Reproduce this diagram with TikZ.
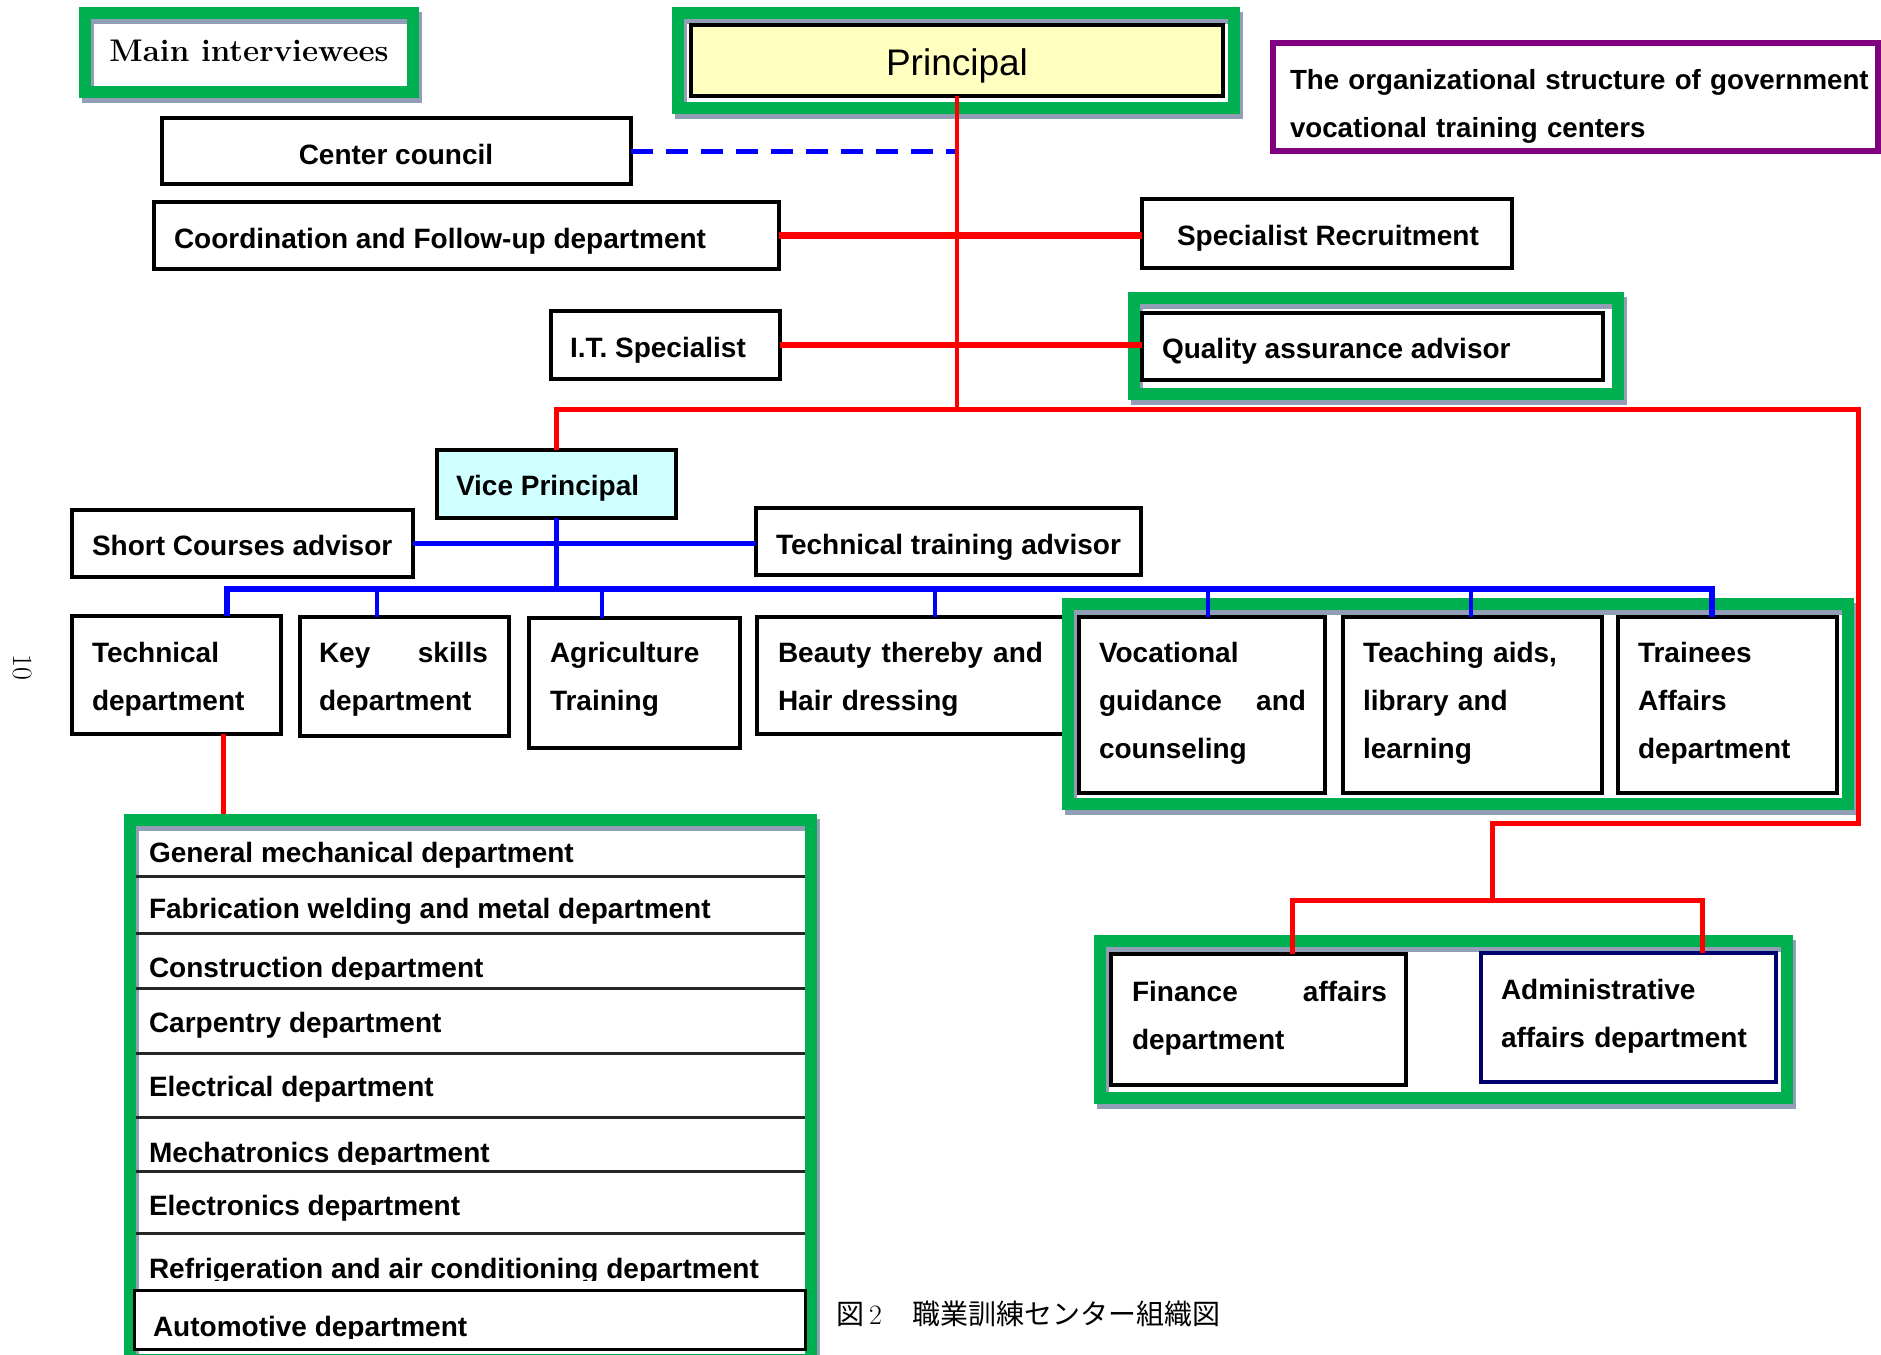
\documentclass[tikz,border=0pt]{standalone}
\usepackage{fontspec}
\newfontfamily\arialfont{Liberation Sans}
\newfontfamily\cjk{Noto Sans CJK JP}
\usetikzlibrary{calc}

\definecolor{frameGreen}{RGB}{0,176,80}
\definecolor{shadowGrey}{RGB}{146,157,182}
\definecolor{lineRed}{RGB}{255,0,0}
\definecolor{lineBlue}{RGB}{0,0,255}
\definecolor{paleYellow}{RGB}{255,255,192}
\definecolor{paleCyan}{RGB}{208,255,255}
\definecolor{titlePurple}{RGB}{128,0,128}
\definecolor{navyEdge}{RGB}{0,0,110}

\tikzset{
  rbase/.style={rectangle, draw=black, line width=3.5pt, fill=white, inner sep=0pt, outer sep=0pt},
  gbase/.style={rectangle, draw=frameGreen, line width=12pt, inner sep=0pt, outer sep=0pt},
  gshadow/.style={draw=shadowGrey, line width=12pt},
  lbl/.style={inner sep=0pt, outer sep=0pt, font=\arialfont\bfseries\fontsize{28}{48}\selectfont},
  mlbl/.style={lbl, align=left, text width=#1},
  redline/.style={draw=lineRed, line width=5pt},
  redthin/.style={draw=lineRed, line width=4pt},
  redbold/.style={draw=lineRed, line width=6.5pt},
  blueline/.style={draw=lineBlue, line width=5.5pt},
  bluedrop/.style={draw=lineBlue, line width=4.5pt},
  bluedash/.style={draw=lineBlue, line width=5pt, dash pattern=on 22pt off 13pt},
  sepline/.style={draw=black!85, line width=3pt},
}

% box from its corners: [style]{name}{x1}{y1}{x2}{y2}
\newcommand\rbox[6][]{\node[rbase,#1,anchor=north west,minimum width={(#5)-(#3)},minimum height={(#6)-(#4)}] (#2) at (#3,#4) {};}
% green frame with its grey drop shadow: {name}{x1}{y1}{x2}{y2}
\newcommand\gframe[5]{%
  \draw[gshadow] ({#2+3},{#3+5}) rectangle ({#4+3},{#5+5});
  \node[gbase,anchor=north west,minimum width={(#4)-(#2)},minimum height={(#5)-(#3)}] (#1) at (#2,#3) {};}

\begin{document}
\begin{tikzpicture}[x=1pt,y=-1pt]
\useasboundingbox[fill=white] (0,0) rectangle (1881,1354);

% boxes lying partly under a frame
\rbox{beauty}{757}{617}{1066}{734}

% green frames
\gframe{keyframe}{85}{13}{413}{92}
\gframe{prinframe}{678}{13}{1234}{108}
\gframe{qaframe}{1134}{298}{1618}{394}
\gframe{unitframe}{1068}{604}{1848}{804}
\gframe{listframe}{130}{820}{811}{1360}
\gframe{finframe}{1100}{941}{1787}{1098}

% boxes
\rbox[fill=paleYellow, line width=4pt]{principal}{691}{25}{1223}{96}
\rbox[draw=titlePurple, line width=6pt]{title}{1273}{43}{1878}{151}
\rbox{council}{162}{118}{631}{184}
\rbox{coord}{154}{202}{779}{269}
\rbox{spec}{1142}{199}{1512}{268}
\rbox{it}{551}{311}{780}{379}
\rbox{qa}{1142}{313}{1603}{380}
\rbox[fill=paleCyan]{vp}{437}{450}{676}{518}
\rbox{sca}{72}{510}{413}{577}
\rbox{tta}{756}{508}{1141}{575}
\rbox{tech}{72}{616}{281}{734}
\rbox{key}{300}{617}{509}{736}
\rbox{agri}{529}{618}{740}{748}
\rbox{voc}{1079}{617}{1325}{793}
\rbox{teach}{1343}{617}{1602}{793}
\rbox{trainee}{1618}{617}{1837}{793}
\rbox{finance}{1111}{954}{1406}{1085}
\rbox[draw=navyEdge]{admin}{1481}{953}{1776}{1082}
\rbox[line width=3pt]{auto}{134}{1290}{805}{1349}

% junction points of the connectors
\coordinate (hub) at (957,409);
\coordinate (rtTop) at (1858,409);
\coordinate (rtBend) at (1858,823);
\coordinate (splitTop) at (1492,823);
\coordinate (split) at (1492,900);
\coordinate (finTap) at (1292,954);
\coordinate (admTap) at (1702,953);
\coordinate (listTap) at (223,814);
\coordinate (busL) at (227,589);
\coordinate (busR) at (1712,589);

% red lines of authority
\draw[bluedash] (council.east) -- (council.east -| hub);
\draw[redthin] (principal.south) -- (hub);
\draw[redbold] (coord.east) -- (coord.east -| spec.west);
\draw[redbold] (it.east) -- (it.east -| qa.west);
\draw[redline] (vp.north) |- (rtTop) -- (rtBend) -- (splitTop) -- (split);
\draw[redline] (finTap) |- (split) -| (admTap);
\draw[redline] (tech.south -| listTap) -- (listTap);

% blue lines below the vice principal
\draw[blueline] (sca.east) -- (sca.east -| tta.west);
\draw[blueline] (vp.south) -- (vp.south |- busL);
\draw[blueline] (busL |- tech.north) -- (busL) -- (busR) -- (busR |- trainee.north);
\foreach \n/\x in {key/377,agri/602,beauty/935,voc/1208,teach/1471}
  \draw[bluedrop] (\x,0 |- busL) -- (\x,0 |- \n.north);

% rows of the technical department list
\foreach \y in {876,933,988,1053,1117,1171,1233}
  \draw[sepline] (136,\y) -- (805,\y);

% labels
\node[anchor=base, inner sep=0pt, font=\bfseries\fontsize{31.3}{40}\selectfont] (t-key) at (249,62) {Main interviewees};
\node[anchor=base, inner sep=0pt, font=\arialfont\fontsize{37}{44}\selectfont] (t-principal) at (957,75) {Principal};
\node[mlbl=600pt, anchor=base west, font=\arialfont\bfseries\fontsize{27.7}{48}\selectfont] (t-title) at (1290,89) {The organizational structure of government\\vocational training centers};
\node[lbl, anchor=base] (t-council) at (396,164) {Center council};
\node[lbl, anchor=base west] (t-coord) at (174,248) {Coordination and Follow-up department};
\node[lbl, anchor=base west] (t-spec) at (1177,245) {Specialist Recruitment};
\node[lbl, anchor=base west] (t-it) at (570,357) {I.T. Specialist};
\node[lbl, anchor=base west] (t-qa) at (1162,358) {Quality assurance advisor};
\node[lbl, anchor=base west] (t-vp) at (456,495) {Vice Principal};
\node[lbl, anchor=base west] (t-sca) at (92,555) {Short Courses advisor};
\node[lbl, anchor=base west] (t-tta) at (776,554) {Technical training advisor};
\node[mlbl=180pt, anchor=base west] (t-tech) at (92,662) {Technical\\department};
\node[mlbl=169pt, anchor=base west] (t-keysk) at (319,662) {Key\hfill skills\\department};
\node[mlbl=180pt, anchor=base west] (t-agri) at (550,662) {Agriculture\\Training};
\node[mlbl=265pt, anchor=base west] (t-beauty) at (778,662) {Beauty\hfill thereby\hfill and\\Hair dressing};
\node[mlbl=207pt, anchor=base west] (t-voc) at (1099,662) {Vocational\\guidance\hfill and\\counseling};
\node[mlbl=230pt, anchor=base west] (t-teach) at (1363,662) {Teaching aids,\\library and\\learning};
\node[mlbl=190pt, anchor=base west] (t-trainee) at (1638,662) {Trainees\\Affairs\\department};
\node[mlbl=255pt, anchor=base west] (t-fin) at (1132,1001) {Finance\hfill affairs\\department};
\node[mlbl=270pt, anchor=base west] (t-admin) at (1501,999) {Administrative\\affairs department};

% list entries (some descenders are cut off by their cells)
\node[lbl, anchor=base west] (r1) at (149,862) {General mechanical department};
\node[lbl, anchor=base west] (r2) at (149,918) {Fabrication welding and metal department};
\begin{scope}
  \clip (136,940) rectangle (805,979);
  \node[lbl, anchor=base west] (r3) at (149,977) {Construction department};
\end{scope}
\node[lbl, anchor=base west] (r4) at (149,1032) {Carpentry department};
\node[lbl, anchor=base west] (r5) at (149,1096) {Electrical department};
\begin{scope}
  \clip (136,1120) rectangle (805,1164);
  \node[lbl, anchor=base west] (r6) at (149,1162) {Mechatronics department};
\end{scope}
\node[lbl, anchor=base west] (r7) at (149,1215) {Electronics department};
\begin{scope}
  \clip (136,1236) rectangle (805,1280);
  \node[lbl, anchor=base west] (r8) at (149,1278) {Refrigeration and air conditioning department};
\end{scope}
\begin{scope}
  \clip (136,1293) rectangle (805,1338);
  \node[lbl, anchor=base west] (r9) at (153,1336) {Automotive department};
\end{scope}

% page number and caption
\node[rotate=-90, inner sep=0pt, font=\fontsize{28}{30}\selectfont] (pagenum) at (23,667) {10};
\node[anchor=base west, inner sep=0pt, font=\fontsize{28}{30}\selectfont] (caption) at (836,1324) {{\cjk 図}\hspace{5pt}2\hspace{30pt}{\cjk 職業訓練センター組織図}};
\end{tikzpicture}
\end{document}
